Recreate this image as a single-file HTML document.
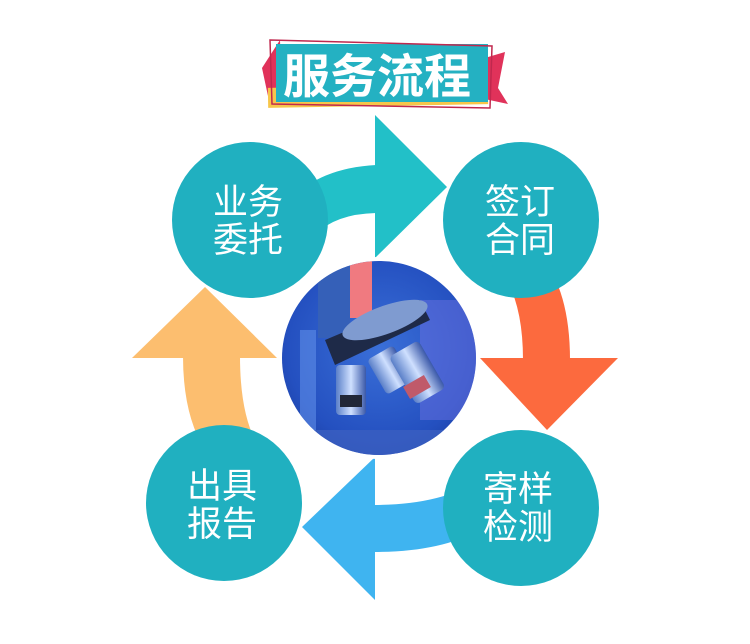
<!DOCTYPE html>
<html><head><meta charset="utf-8"><style>
html,body{margin:0;padding:0;background:#fff;width:750px;height:644px;overflow:hidden}
svg{display:block}
text{font-family:"Liberation Sans","Noto Sans CJK SC",sans-serif}
</style></head><body>
<svg width="750" height="644" viewBox="0 0 750 644" xmlns="http://www.w3.org/2000/svg">
<defs>
<radialGradient id="bg" cx="0.5" cy="0.45" r="0.6">
<stop offset="0" stop-color="#3a6fd8"/><stop offset="0.7" stop-color="#2450c0"/><stop offset="1" stop-color="#1a3a9a"/>
</radialGradient>
<clipPath id="cc"><circle cx="379" cy="358" r="97"/></clipPath>
<linearGradient id="lens" x1="0" x2="1"><stop offset="0" stop-color="#5a7fc8"/><stop offset="0.5" stop-color="#cfe0ff"/><stop offset="1" stop-color="#3a58a8"/></linearGradient>
</defs>
<!-- title banner -->
<polygon points="262,68 280,40 282,100 268,96" fill="#e0325a"/>
<polygon points="478,60 505,52 498,88 508,104 480,98" fill="#e0325a"/>
<rect x="268" y="86" width="220" height="20" fill="#f7c64a" transform="rotate(-1 378 96)"/>
<rect x="276" y="44" width="212" height="58" fill="#24b1c2"/>
<polygon points="270,40 492,46 490,108 272,104" fill="none" stroke="#c0284e" stroke-width="1.5"/>
<text x="377" y="93" font-size="47" font-weight="bold" fill="#fff" text-anchor="middle">服务流程</text>
<!-- arrows -->
<path d="M290 200 Q320 168 376 165 L376 213 Q335 214 315 235 Z" fill="#22c0c8"/>
<polygon points="375,115 447,187 375,258" fill="#22c0c8"/>
<path d="M500 270 Q523 300 523 360 L570 360 Q570 290 540 255 Z" fill="#fc6a3e"/>
<polygon points="480,358 618,358 547,430" fill="#fc6a3e"/>
<path d="M374 505 Q440 505 480 480 L480 530 Q440 552 374 552 Z" fill="#3fb4f0"/>
<polygon points="375,457 302,527 375,600" fill="#3fb4f0"/>
<path d="M183 356 Q183 415 205 450 L255 440 Q240 410 240 356 Z" fill="#fcbe6f"/>
<polygon points="132,358 277,358 205,287" fill="#fcbe6f"/>
<!-- circles -->
<circle cx="250" cy="220" r="78" fill="#20b0c0"/>
<circle cx="521" cy="220" r="78" fill="#20b0c0"/>
<circle cx="224" cy="503" r="78" fill="#20b0c0"/>
<circle cx="521" cy="508" r="78" fill="#20b0c0"/>
<g fill="#fff" font-size="35" text-anchor="middle">
<text x="248" y="214">业务</text><text x="248" y="252">委托</text>
<text x="520" y="214">签订</text><text x="520" y="252">合同</text>
<text x="222" y="498">出具</text><text x="222" y="536">报告</text>
<text x="518" y="501">寄样</text><text x="518" y="539">检测</text>
</g>
<!-- center image -->
<circle cx="379" cy="358" r="101" fill="#fff"/>
<g clip-path="url(#cc)">
<rect x="270" y="250" width="220" height="220" fill="url(#bg)"/>
<rect x="420" y="300" width="60" height="120" fill="#6a6fe0" opacity="0.5"/>
<rect x="300" y="330" width="16" height="110" fill="#5f8ee8" opacity="0.6"/>
<rect x="350" y="258" width="22" height="60" fill="#f07a80"/>
<rect x="318" y="258" width="32" height="80" fill="#3560b8"/>
<polygon points="325,340 420,300 430,320 335,365" fill="#1e2a48"/>
<ellipse cx="385" cy="320" rx="45" ry="14" fill="#7f9bd0" transform="rotate(-20 385 320)"/>
<rect x="336" y="365" width="30" height="50" rx="4" fill="url(#lens)"/>
<rect x="340" y="395" width="22" height="12" fill="#222838"/>
<rect x="375" y="350" width="30" height="40" rx="4" fill="url(#lens)" transform="rotate(-30 390 370)"/>
<rect x="400" y="345" width="34" height="55" rx="5" fill="url(#lens)" transform="rotate(-30 417 372)"/>
<rect x="405" y="380" width="24" height="14" fill="#c05a6a" transform="rotate(-30 417 387)"/>
<rect x="310" y="430" width="140" height="30" fill="#3b5fc0" opacity="0.8"/>
</g>
</svg>
</body></html>
